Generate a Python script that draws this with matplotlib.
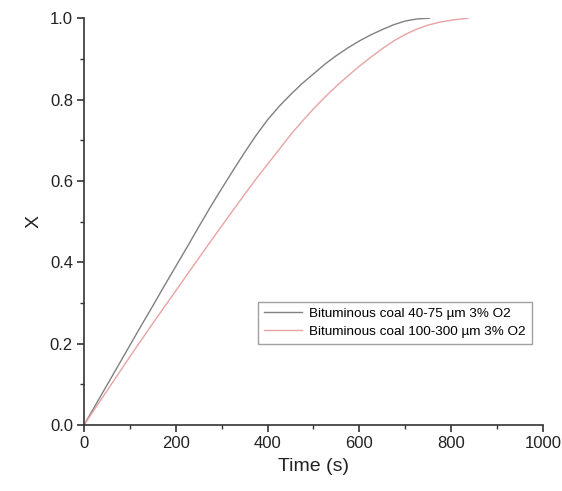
import matplotlib
matplotlib.use("Agg")
import matplotlib.pyplot as plt
from matplotlib.ticker import MultipleLocator

plt.rcParams['font.family'] = ['Liberation Sans', 'DejaVu Sans']

# Data
t_small = [0, 25, 50, 75, 100, 125, 150, 175, 200, 225, 250, 275, 300, 325, 350, 375, 400,
           425, 450, 475, 500, 525, 550, 575, 600, 625, 650, 675, 700, 725, 753]
x_small = [0, 0.049, 0.098, 0.147, 0.196, 0.245, 0.293, 0.342, 0.390, 0.438, 0.487, 0.535,
           0.581, 0.626, 0.670, 0.712, 0.750, 0.783, 0.812, 0.839, 0.863, 0.887, 0.908,
           0.927, 0.944, 0.959, 0.972, 0.984, 0.993, 0.998, 1.0]

t_large = [0, 25, 50, 75, 100, 125, 150, 175, 200, 225, 250, 275, 300, 325, 350, 375, 400,
           425, 450, 475, 500, 525, 550, 575, 600, 625, 650, 675, 700, 725, 750, 775, 800, 837]
x_large = [0, 0.042, 0.084, 0.126, 0.168, 0.209, 0.250, 0.290, 0.330, 0.370, 0.410, 0.450,
           0.489, 0.528, 0.567, 0.605, 0.641, 0.677, 0.713, 0.746, 0.777, 0.806, 0.833,
           0.858, 0.882, 0.904, 0.925, 0.944, 0.960, 0.973, 0.983, 0.990, 0.995, 1.0]

labels = ["Bituminous coal 40-75 \u00b5m 3% O2", "Bituminous coal 100-300 \u00b5m 3% O2"]

fig = plt.figure(figsize=(5.62, 4.91), dpi=100)
ax = fig.add_axes([0.1495, 0.1344, 0.8165, 0.8286])

ax.plot(t_small, x_small, color='#808080', lw=1.0, label=labels[0])
ax.plot(t_large, x_large, color='#e8a3a3', lw=1.0, label=labels[1])

ax.set_xlim(0, 1000)
ax.set_ylim(0, 1.0)
ax.xaxis.set_major_locator(MultipleLocator(200))
ax.xaxis.set_minor_locator(MultipleLocator(100))
ax.yaxis.set_major_locator(MultipleLocator(0.2))
ax.yaxis.set_minor_locator(MultipleLocator(0.1))
ax.yaxis.set_major_formatter(plt.FormatStrFormatter('%.1f'))

for s in ['top', 'right']:
    ax.spines[s].set_visible(False)
for s in ['left', 'bottom']:
    ax.spines[s].set_color('#333333')
    ax.spines[s].set_linewidth(1.2)

ax.tick_params(which='major', direction='out', length=5, width=1.2, color='#333333',
               labelsize=12, labelcolor='#222222', pad=3)
ax.tick_params(which='minor', direction='out', length=3, width=1.0, color='#333333')

ax.set_xlabel('Time (s)', fontsize=14, color='#222222', labelpad=5)
ax.set_ylabel('X', fontsize=14, color='#222222', labelpad=5)

leg = ax.legend(loc='lower left', bbox_to_anchor=(0.38, 0.199), fontsize=9.7,
                frameon=True, fancybox=False, edgecolor='#888888', handlelength=2.8,
                borderpad=0.45, labelspacing=0.4, handletextpad=0.5, borderaxespad=0)
leg.get_frame().set_linewidth(1.0)

fig.savefig('out.png', dpi=100)
